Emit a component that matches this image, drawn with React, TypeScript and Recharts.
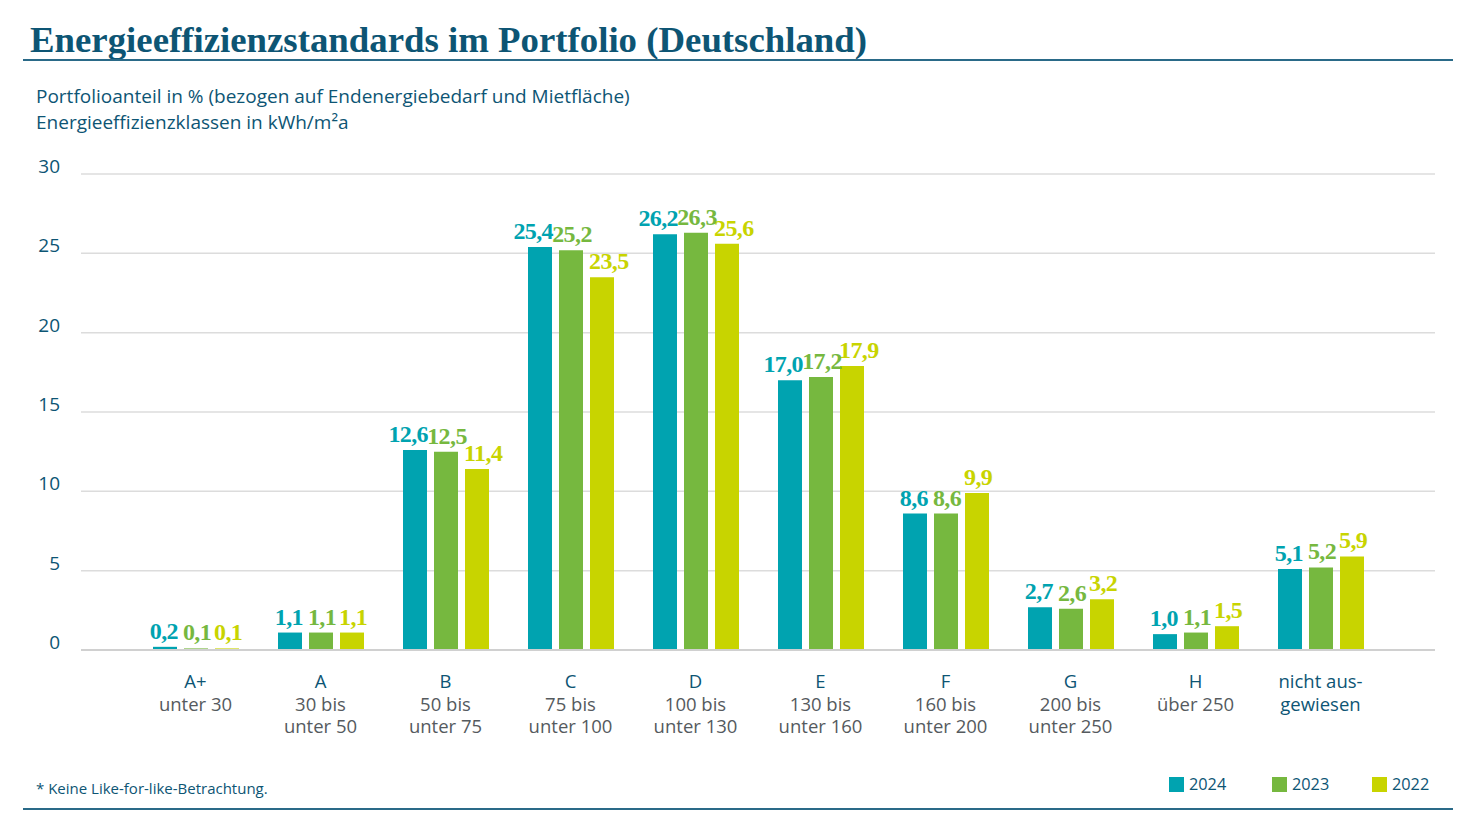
import React from 'react';
import { BarChart, Bar, XAxis, YAxis, CartesianGrid, LabelList } from 'recharts';

const categories = ['A+', 'A', 'B', 'C', 'D', 'E', 'F', 'G', 'H', 'nicht aus-'];
const rangeLines = [
  ['unter 30'],
  ['30 bis', 'unter 50'],
  ['50 bis', 'unter 75'],
  ['75 bis', 'unter 100'],
  ['100 bis', 'unter 130'],
  ['130 bis', 'unter 160'],
  ['160 bis', 'unter 200'],
  ['200 bis', 'unter 250'],
  ['über 250'],
  ['gewiesen'],
];
const values2024 = [0.2, 1.1, 12.6, 25.4, 26.2, 17.0, 8.6, 2.7, 1.0, 5.1];
const values2023 = [0.1, 1.1, 12.5, 25.2, 26.3, 17.2, 8.6, 2.6, 1.1, 5.2];
const values2022 = [0.1, 1.1, 11.4, 23.5, 25.6, 17.9, 9.9, 3.2, 1.5, 5.9];
const yTicks = [0, 5, 10, 15, 20, 25, 30];
const seriesNames = ['2024', '2023', '2022'];
const subtitleLines = [
  'Portfolioanteil in % (bezogen auf Endenergiebedarf und Mietfläche)',
  'Energieeffizienzklassen in kWh/m²a',
];

const data = categories.map((c, i) => ({
  name: c,
  v2024: values2024[i],
  v2023: values2023[i],
  v2022: values2022[i],
}));

const C2024 = '#00a3b0';
const C2023 = '#76b83f';
const C2022 = '#c8d400';
const DARK = '#0d5574';
const GRAY = '#555a5e';
const SANS = '"Open Sans", Lato, sans-serif';
const SERIF = '"Liberation Serif", "DejaVu Serif", serif';

const fmt = (v: number) => v.toFixed(1).replace('.', ',');

// align: 'end' = right edge of bar, 'middle' = centre, 'start' = left edge of bar
const makeLabel = (color: string, align: 'start' | 'middle' | 'end') => (props: any) => {
  const { x, y, width, value } = props;
  const tx = align === 'end' ? x + width + 1 : align === 'start' ? x - 1 : x + width / 2 + 1;
  return (
    <text
      x={tx}
      y={y - 8}
      textAnchor={align}
      fill={color}
      fontFamily={SERIF}
      fontWeight="bold"
      fontSize={24}
      letterSpacing={-0.6}
    >
      {fmt(value)}
    </text>
  );
};

const XTick = (props: any) => {
  const { x, y, payload, index } = props;
  const lines = rangeLines[index] || [];
  const isLast = index === categories.length - 1;
  return (
    <g>
      <text x={x} y={y + 30} textAnchor="middle" fill={DARK} fontFamily={SANS} fontSize={18.5}>
        {payload.value}
      </text>
      {lines.map((l, k) => (
        <text
          key={k}
          x={x}
          y={y + 30 + 22.5 * (k + 1)}
          textAnchor="middle"
          fill={isLast ? DARK : GRAY}
          fontFamily={SANS}
          fontSize={18.5}
        >
          {l}
        </text>
      ))}
    </g>
  );
};

const YTick = (props: any) => {
  const { x, y, payload } = props;
  return (
    <text x={x} y={y - 1} textAnchor="end" fill={DARK} fontFamily={SANS} fontSize={19}>
      {payload.value}
    </text>
  );
};

export default function App() {
  const legendColors = [C2024, C2023, C2022];
  const legendX = [1169, 1272, 1372];
  return (
    <div
      style={{
        position: 'absolute',
        left: 0,
        top: 0,
        width: 1470,
        height: 827,
        background: '#fff',
        overflow: 'hidden',
      }}
    >
      <div
        style={{
          position: 'absolute',
          left: 30,
          top: 18,
          fontFamily: SERIF,
          fontWeight: 'bold',
          fontSize: 36.8,
          color: DARK,
          whiteSpace: 'nowrap',
          lineHeight: '44px',
        }}
      >
        Energieeffizienzstandards im Portfolio (Deutschland)
      </div>
      <div style={{ position: 'absolute', left: 23, top: 59, width: 1430, height: 2, background: '#2a6a88' }} />
      {subtitleLines.map((t, i) => (
        <div
          key={i}
          style={{
            position: 'absolute',
            left: 36,
            top: 83 + i * 26,
            fontFamily: SANS,
            fontSize: 19,
            color: DARK,
            lineHeight: '26px',
            whiteSpace: 'nowrap',
          }}
        >
          {t}
        </div>
      ))}

      <div style={{ position: 'absolute', left: 0, top: 0 }}>
        <BarChart
          width={1470}
          height={760}
          data={data}
          margin={{ top: 174, right: 35, bottom: 0, left: 0 }}
          barSize={24}
          barGap={7}
        >
          <CartesianGrid vertical={false} stroke="#dcdcdc" strokeWidth={1.5} />
          <XAxis
            dataKey="name"
            height={110}
            axisLine={{ stroke: '#d0d0d0', strokeWidth: 2 }}
            tickLine={false}
            tick={<XTick />}
            interval={0}
            padding={{ left: 52, right: 52 }}
          />
          <YAxis
            width={81}
            domain={[0, 30]}
            ticks={yTicks}
            axisLine={false}
            tickLine={false}
            tickSize={0}
            tickMargin={21}
            tick={<YTick />}
          />
          <Bar dataKey="v2024" name={seriesNames[0]} fill={C2024} isAnimationActive={false}>
            <LabelList dataKey="v2024" content={makeLabel(C2024, 'end')} />
          </Bar>
          <Bar dataKey="v2023" name={seriesNames[1]} fill={C2023} isAnimationActive={false}>
            <LabelList dataKey="v2023" content={makeLabel(C2023, 'middle')} />
          </Bar>
          <Bar dataKey="v2022" name={seriesNames[2]} fill={C2022} isAnimationActive={false}>
            <LabelList dataKey="v2022" content={makeLabel(C2022, 'start')} />
          </Bar>
        </BarChart>
      </div>

      <div
        style={{
          position: 'absolute',
          left: 36,
          top: 778,
          fontFamily: SANS,
          fontSize: 15,
          color: DARK,
          whiteSpace: 'nowrap',
        }}
      >
        * Keine Like-for-like-Betrachtung.
      </div>
      {seriesNames.map((n, i) => (
        <div
          key={n}
          style={{
            position: 'absolute',
            left: legendX[i],
            top: 773,
            display: 'flex',
            alignItems: 'center',
            fontFamily: SANS,
            fontSize: 16.3,
            color: DARK,
            whiteSpace: 'nowrap',
          }}
        >
          <div style={{ width: 15, height: 15, background: legendColors[i], marginRight: 5 }} />
          {n}
        </div>
      ))}
      <div style={{ position: 'absolute', left: 23, top: 808, width: 1430, height: 2, background: '#2a6a88' }} />
    </div>
  );
}
